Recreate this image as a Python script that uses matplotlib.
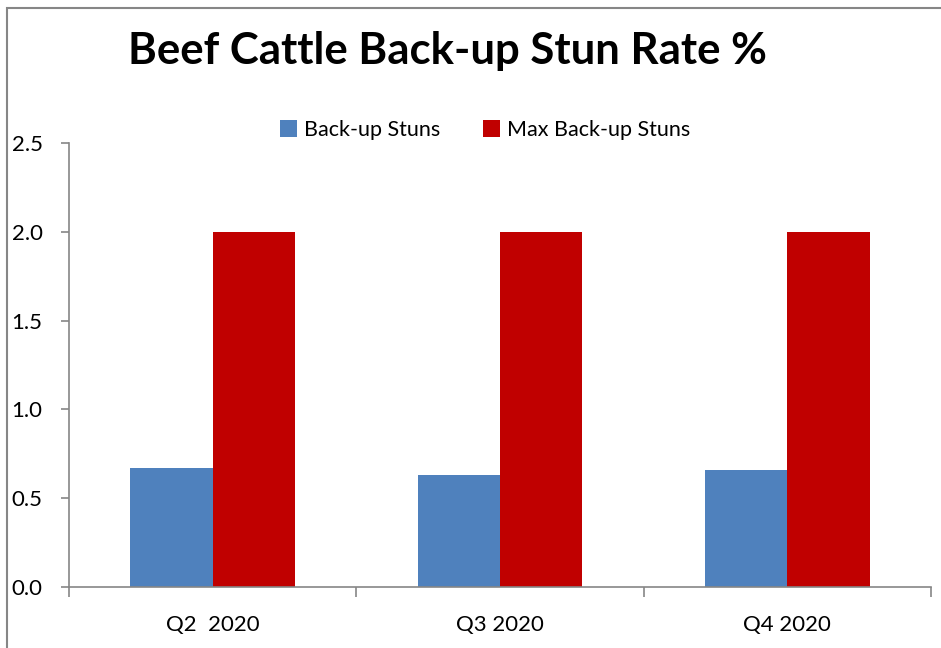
import numpy as np
import matplotlib
matplotlib.use("Agg")
import matplotlib.pyplot as plt
from matplotlib.patches import Rectangle

plt.rcParams['font.family'] = ['Lato', 'DejaVu Sans']

quarters = ["Q2  2020", "Q3 2020", "Q4 2020"]
backup_stuns = [0.67, 0.63, 0.66]
max_backup_stuns = [2.0, 2.0, 2.0]

BLUE = "#4f81bd"
RED = "#c00000"
GRAY = "#868686"

fig = plt.figure(figsize=(9.41, 6.48), dpi=100)

# chart area border
fig.patches.append(Rectangle((7 / 941, -0.1), 1.2, 1 - 8 / 648 + 0.1,
                             transform=fig.transFigure, fill=False,
                             edgecolor=GRAY, linewidth=1.5))

ax = fig.add_axes([69 / 941, 1 - 587 / 648, 862 / 941, 444 / 648])

x = np.arange(len(quarters))
w = 0.286
ax.bar(x - w / 2, backup_stuns, w, color=BLUE, label="Back-up Stuns")
ax.bar(x + w / 2, max_backup_stuns, w, color=RED, label="Max Back-up Stuns")

ax.set_xlim(-0.5, len(quarters) - 0.5)
ax.set_ylim(0, 2.5)
ax.set_yticks(np.arange(0, 2.51, 0.5))
ax.set_yticklabels([f"{v:.1f}" for v in np.arange(0, 2.51, 0.5)])
ax.set_xticks(x)
ax.set_xticklabels(quarters)
ax.set_xticks(np.arange(-0.5, len(quarters)), minor=True)

for s in ["top", "right"]:
    ax.spines[s].set_visible(False)
for s in ["left", "bottom"]:
    ax.spines[s].set_color(GRAY)
    ax.spines[s].set_linewidth(1.2)

ax.tick_params(axis="y", direction="out", length=6, color=GRAY, width=1.2,
               labelsize=16, pad=13)
ax.tick_params(axis="x", which="major", length=0, labelsize=16, pad=20)
ax.tick_params(axis="x", which="minor", direction="out", length=7, color=GRAY, width=1.2)

fig.text(0.476, 0.922, "Beef Cattle Back-up Stun Rate %", ha="center", va="center",
         fontsize=31.5, fontweight="bold")

ax.legend(loc="center", bbox_to_anchor=(485 / 941, 1 - 130 / 648),
          bbox_transform=fig.transFigure, ncol=2, frameon=False, fontsize=15.5,
          handlelength=0.8, handleheight=0.8, handletextpad=0.3, columnspacing=2.0)

fig.savefig("out.png", dpi=100)
